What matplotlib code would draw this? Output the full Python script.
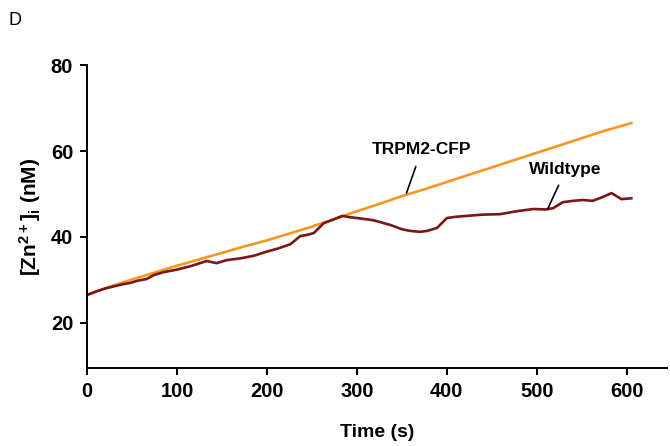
#import relevant libraries
import numpy as np
import matplotlib
matplotlib.use('Agg')
import matplotlib.pyplot as plt

plt.rcParams['font.family'] = ['Liberation Sans', 'DejaVu Sans']
plt.rcParams['mathtext.fontset'] = 'custom'
plt.rcParams['mathtext.rm'] = 'Liberation Sans:bold'
plt.rcParams['mathtext.bf'] = 'Liberation Sans:bold'
plt.rcParams['mathtext.default'] = 'bf'

#values
trpm2_time = [0, 25, 50, 75, 100, 125, 150, 175, 200, 225, 250, 275, 300, 325, 350, 375, 400,
              425, 450, 475, 500, 525, 550, 575, 590, 605]
trpm2_conc = [26.5, 28.4, 30.1, 31.7, 33.3, 34.8, 36.3, 37.8, 39.2, 40.8, 42.4, 44.2, 46.0, 47.7, 49.5,
              51.1, 52.8, 54.5, 56.2, 57.9, 59.6, 61.3, 63.0, 64.7, 65.6, 66.5]

wt_time = [0, 10, 20, 30, 40, 48, 56, 66, 74, 85, 100, 115, 133, 144, 155, 170, 185, 200, 212,
           226, 237, 245, 252, 263, 272, 284, 292, 300, 318, 337, 350, 359, 370, 378, 389, 400,
           410, 422, 440, 459, 478, 496, 510, 518, 529, 540, 551, 562, 572, 583, 594, 605]
wt_conc = [26.5, 27.3, 28.0, 28.5, 29.0, 29.3, 29.8, 30.2, 31.1, 31.8, 32.4, 33.2, 34.4, 33.9,
           34.6, 35.0, 35.6, 36.6, 37.3, 38.3, 40.2, 40.5, 40.9, 43.2, 43.9, 44.9, 44.6, 44.4,
           43.9, 42.8, 41.8, 41.4, 41.2, 41.4, 42.1, 44.4, 44.7, 44.9, 45.2, 45.3, 46.0, 46.5,
           46.4, 46.7, 48.1, 48.4, 48.6, 48.4, 49.2, 50.2, 48.8, 49.0]

x_ticks = [0, 100, 200, 300, 400, 500, 600]
y_ticks = [20, 40, 60, 80]

fig = plt.figure(figsize=(6.7, 4.46), dpi=100)
ax = fig.add_axes([0.13, 0.174, 0.866, 0.68])

ax.plot(trpm2_time, trpm2_conc, color='#F5961E', linewidth=1.9)
ax.plot(wt_time, wt_conc, color='#7A1518', linewidth=1.9)

ax.set_xlim(0, 645)
ax.set_ylim(9.4, 80)
ax.set_xticks(x_ticks)
ax.set_yticks(y_ticks)
ax.spines['top'].set_visible(False)
ax.spines['right'].set_visible(False)
ax.spines['left'].set_linewidth(1.4)
ax.spines['bottom'].set_linewidth(1.4)
ax.tick_params(direction='out', length=5, width=1.4, labelsize=14.5, pad=5)
for lab in ax.get_xticklabels() + ax.get_yticklabels():
    lab.set_fontweight('bold')

ax.set_xlabel('Time (s)', fontsize=14, fontweight='bold', labelpad=16)
ax.set_ylabel(r'[Zn$^{2+}$]$_{i}$ (nM)', fontsize=15, fontweight='bold', labelpad=6)

#line labels with pointers
ax.annotate('TRPM2-CFP', xy=(355, 50.2), xytext=(372, 60.3), fontsize=12.5, fontweight='bold',
            ha='center', va='center',
            arrowprops=dict(arrowstyle='-', color='black', lw=1.2, shrinkA=5, shrinkB=0))
ax.annotate('Wildtype', xy=(512, 46.5), xytext=(532, 55.6), fontsize=12.5, fontweight='bold',
            ha='center', va='center',
            arrowprops=dict(arrowstyle='-', color='black', lw=1.2, shrinkA=4, shrinkB=0))

fig.text(0.012, 0.955, 'D', fontsize=13, ha='left', va='center')

fig.savefig('out.png', dpi=100)
